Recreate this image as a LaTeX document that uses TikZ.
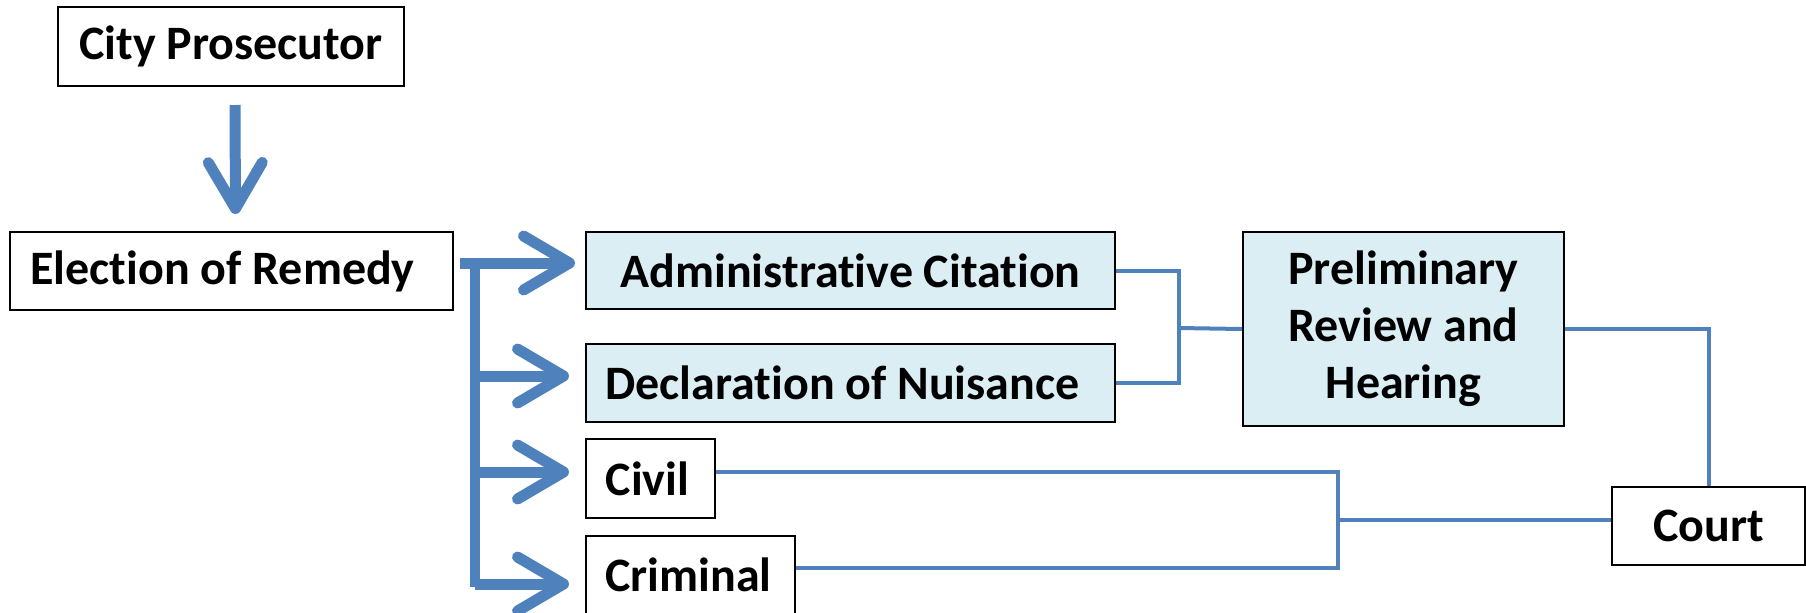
\documentclass[tikz,border=0pt]{standalone}
\usepackage{fontspec}
\setmainfont[Ligatures=NoCommon]{Carlito}
\usetikzlibrary{arrows.meta}
\definecolor{lineblue}{HTML}{4F81BD}
\definecolor{boxfill}{HTML}{DAEEF3}
\tikzset{
  box/.style={draw=black, line width=1pt, fill=white, inner sep=0pt, align=center,
    font=\fontsize{24pt}{28.5pt}\selectfont\bfseries},
  bluebox/.style={box, fill=boxfill},
  conn/.style={draw=lineblue, line width=2pt},
  bigarrow/.style={draw=lineblue, line width=5.5pt,
    -{Straight Barb[length=23pt, width=27pt, round]}},
  trunkline/.style={draw=lineblue, line width=5pt}
}
\begin{document}
\begin{tikzpicture}[x=0.5pt,y=-0.5pt]
\useasboundingbox (0,0) rectangle (1806,612);
\begin{scope}
\clip (0,0) rectangle (1806,612);
\node[box, minimum width=173pt, minimum height=39.5pt] (cp) at (231,46.5) {City Prosecutor};
\node[box, minimum width=221.5pt, minimum height=39pt] (er) at (231.5,271) {Election of Remedy\hspace{9pt}};
\node[bluebox, minimum width=264.5pt, minimum height=38.5pt] (ac) at (850.5,270.5) {Administrative Citation};
\node[bluebox, minimum width=264.5pt, minimum height=39pt] (dn) at (850.5,383) {Declaration of Nuisance\hspace{8pt}};
\node[box, minimum width=64.5pt, minimum height=39.5pt] (civ) at (650.5,478.5) {Civil\hspace{3pt}};
\node[box, minimum width=104.5pt, minimum height=39pt] (crim) at (690.5,575) {Criminal\hspace{2pt}};
\node[bluebox, minimum width=160.5pt, minimum height=97pt] (pr) at (1403.5,329) {Preliminary\\Review and\\Hearing};
\node[box, minimum width=96.5pt, minimum height=39pt] (court) at (1708.5,526) {Court};

% big arrows
\draw[bigarrow] ([xshift=2pt,yshift=-9pt]cp.south) -- ([xshift=2pt,yshift=8.5pt]er.north);
\coordinate (t1) at (475,263);
\coordinate (t2) at (475,587);
\coordinate (b2) at (475,376);
\coordinate (b3) at (475,472);
\coordinate (b4) at (475,584);
\draw[trunkline] (t1) -- (t2);
\draw[bigarrow] ([xshift=3pt,yshift=4pt]er.east) -- ([xshift=-5pt,yshift=3.75pt]ac.west);
\draw[bigarrow] (b2) -- ([xshift=-8pt,yshift=3.5pt]dn.west);
\draw[bigarrow] (b3) -- ([xshift=-8pt,yshift=3.25pt]civ.west);
\draw[bigarrow] (b4) -- ([xshift=-8pt,yshift=-4.5pt]crim.west);

% thin connectors
\coordinate (j1) at (1179,328);
\draw[conn] (ac.east) -| (j1) |- (dn.east);
\draw[conn] (j1) -- (pr.west);
\draw[conn] (pr.east) -| (court.north);
\coordinate (j2) at (1338,520);
\draw[conn] ([yshift=3.25pt]civ.east) -| (j2) |- ([yshift=3.5pt]crim.east);
\draw[conn] (j2) -- ([yshift=3pt]court.west);
\end{scope}
\end{tikzpicture}
\end{document}
